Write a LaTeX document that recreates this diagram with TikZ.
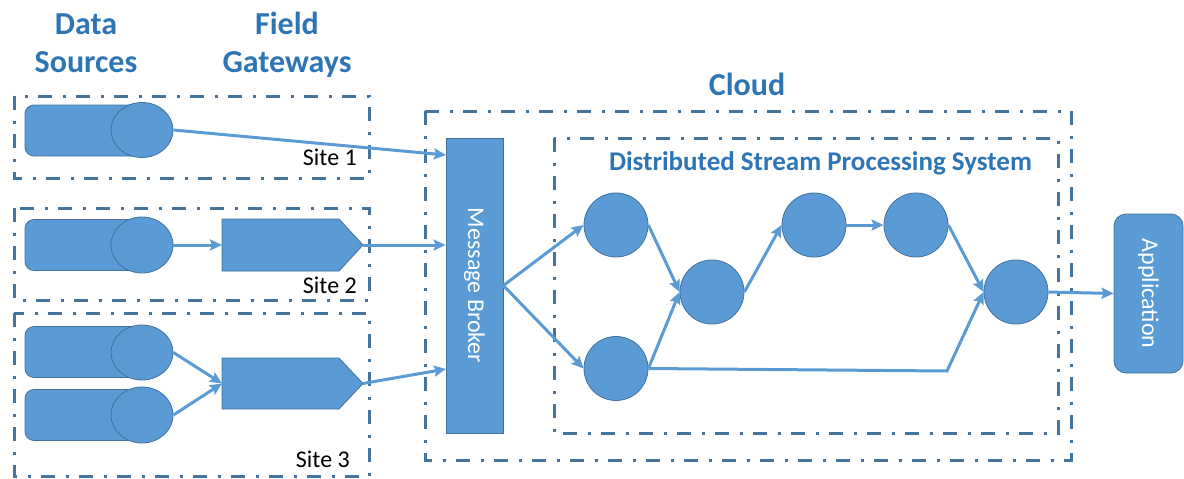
\documentclass[tikz,border=0pt]{standalone}
\usepackage{fontspec}
\setmainfont{Carlito}
\usetikzlibrary{shapes.geometric,arrows.meta,calc}
\definecolor{fillblue}{HTML}{5B9BD5}
\definecolor{edgeblue}{HTML}{41719C}
\definecolor{titleblue}{HTML}{2E75B6}
\definecolor{boxline}{HTML}{44739C}

\begin{document}
\begin{tikzpicture}[x=1pt,y=-1pt,
  region/.style={draw=boxline, line width=3pt, dash pattern=on 14pt off 10.5pt on 3pt off 10.5pt},
  srcbody/.style={draw=edgeblue, fill=fillblue, line width=0.8pt, rounded corners=9pt,
    minimum width=120pt, minimum height=51pt, inner sep=0pt},
  srcend/.style={ellipse, draw=edgeblue, fill=fillblue, line width=0.8pt,
    minimum width=62pt, minimum height=55pt, inner sep=0pt},
  gwshape/.style={draw=edgeblue, fill=fillblue, line width=0.8pt},
  op/.style={circle, draw=edgeblue, fill=fillblue, line width=0.8pt, minimum size=64pt, inner sep=0pt},
  broker/.style={draw=edgeblue, fill=fillblue, line width=0.8pt, minimum width=57pt,
    minimum height=295pt, inner sep=0pt},
  appbox/.style={draw=edgeblue, fill=fillblue, line width=0.8pt, rounded corners=12pt,
    minimum width=69pt, minimum height=159pt, inner sep=0pt},
  flow/.style={draw=fillblue, line width=3pt, -{Stealth[length=12pt,width=11pt,inset=2pt]}},
  heading/.style={font=\fontsize{32}{38}\selectfont\bfseries, text=titleblue, align=center, inner sep=0pt},
  subheading/.style={font=\fontsize{27}{32}\selectfont\bfseries, text=titleblue, inner sep=0pt},
  sitelabel/.style={font=\fontsize{24}{29}\selectfont, text=black, inner sep=0pt, anchor=base east},
  boxtext/.style={font=\fontsize{24}{29}\selectfont, text=white, rotate=-90, inner sep=0pt},
]
\useasboundingbox (0,0) rectangle (1184,479);

% column and region headings (base = baseline of the last line)
\node[heading, anchor=base] (hsrc) at (86,72) {Data\\Sources};
\node[heading, anchor=base] (hgw) at (287,72) {Field\\Gateways};
\node[heading, anchor=base] (hcloud) at (747,95) {Cloud};

% dash-dotted regions
\draw[region] (14,96) rectangle (369,178);
\draw[region] (14,208) rectangle (369,300);
\draw[region] (14,313) rectangle (369,476);
\draw[region] (425,111) rectangle (1071,460);
\draw[region] (554,138) rectangle (1058,433);

\node[subheading, anchor=base] (hdsps) at (820.5,170) {Distributed Stream Processing System};

% site labels
\node[sitelabel] (l1) at (357,165) {Site 1};
\node[sitelabel] (l2) at (357,293) {Site 2};
\node[sitelabel] (l3) at (350,467) {Site 3};

% data sources
\node[srcbody] (b1) at (85,130.5) {};
\node[srcend] (s1) at (142,130) {};
\node[srcbody] (b2) at (85,245) {};
\node[srcend, minimum height=56pt] (s2) at (142,245) {};
\node[srcbody] (b3a) at (85,352) {};
\node[srcend] (s3a) at (142,352.5) {};
\node[srcbody] (b3b) at (85,415) {};
\node[srcend, minimum height=56pt] (s3b) at (142,415) {};

% field gateways
\draw[gwshape] (222,219) -- (339,219) -- (363,245) -- (339,271) -- (222,271) -- cycle;
\coordinate (g2in) at (222,245);
\coordinate (g2out) at (363,245);
\draw[gwshape] (222,358) -- (339,358) -- (363,383.5) -- (339,409) -- (222,409) -- cycle;
\coordinate (g3in) at (222,383.5);
\coordinate (g3out) at (363,383.5);

% message broker
\node[broker] (mb) at (474.5,285.5) {};
\node[boxtext] (mbt) at (mb.center) {Message Broker};
\coordinate (mb1) at (446,155);
\coordinate (mb3) at (446,369);

% stream operators
\node[op] (c1) at (616,225) {};
\node[op] (c2) at (616,368.5) {};
\node[op] (c3) at (712,292) {};
\node[op] (c4) at (814,225) {};
\node[op] (c5) at (916,225) {};
\node[op] (c6) at (1016,292) {};
\coordinate (turn) at (947,371);

% application
\node[appbox] (app) at (1148.5,293.5) {};
\node[boxtext] (appt) at (app.center) {Application};

% data flow
\draw[flow] (s1.east) -- (mb1);
\draw[flow] (s2.east) -- (g2in);
\draw[flow] (g2out) -- (g2out -| mb.west);
\draw[flow] (s3a.east) -- (g3in);
\draw[flow] (s3b.east) -- (g3in);
\draw[flow] (g3out) -- (mb3);
\draw[flow] (mb.east) -- (c1.west);
\draw[flow] (mb.east) -- (c2.west);
\draw[flow] (c1.east) -- (c3.west);
\draw[flow] (c2.east) -- (c3.west);
\draw[flow] (c3.east) -- (c4.west);
\draw[flow] (c4.east) -- (c5.west);
\draw[flow] (c5.east) -- (c6.west);
\draw[flow] (c2.east) -- (turn) -- (c6.west);
\draw[flow] (c6.east) -- (app.west);
\end{tikzpicture}
\end{document}
